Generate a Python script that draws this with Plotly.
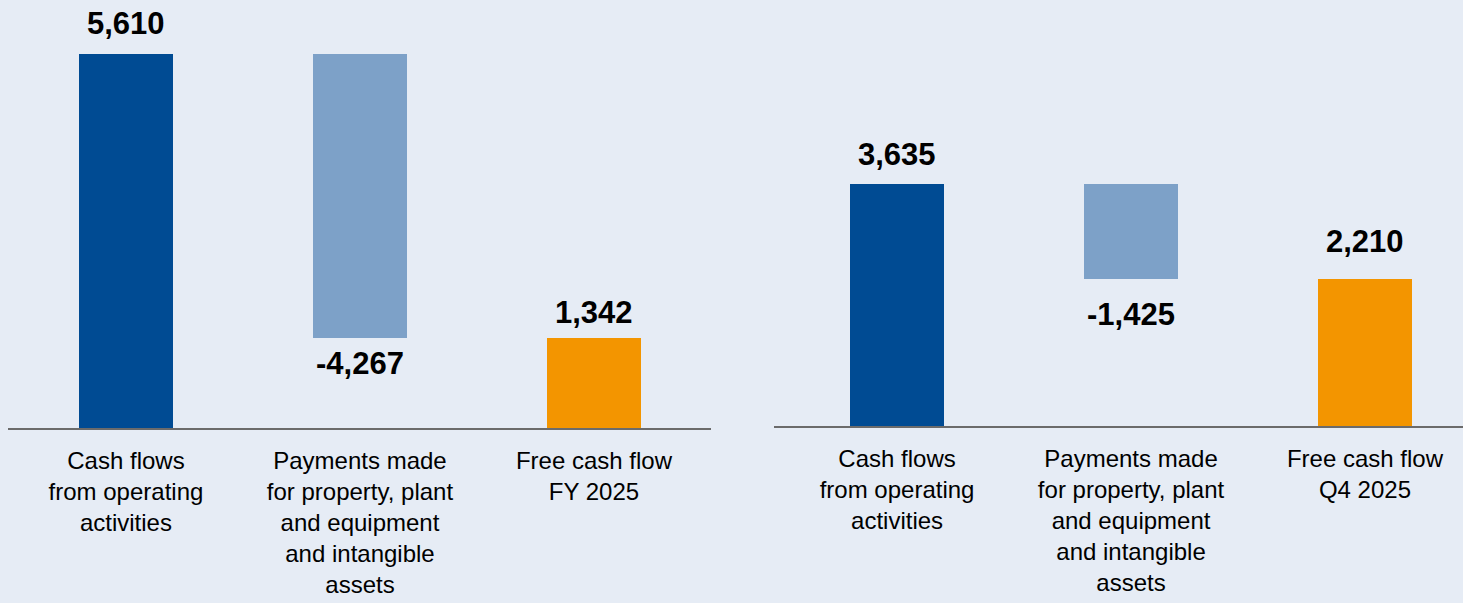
import plotly.graph_objects as go

# Werte aus dem Bild (Mio. EUR)
categories_fy = ["Cash flows<br>from operating<br>activities",
                 "Payments made<br>for property, plant<br>and equipment<br>and intangible<br>assets",
                 "Free cash flow<br>FY 2025"]
categories_q4 = ["Cash flows<br>from operating<br>activities",
                 "Payments made<br>for property, plant<br>and equipment<br>and intangible<br>assets",
                 "Free cash flow<br>Q4 2025"]
values_fy = [5610, -4267, 1342]
values_q4 = [3635, -1425, 2210]

colors = ["#004B93", "#7DA1C8", "#F39500"]
bg = "#E6ECF5"
W, H = 1463, 603
scale = 0.0667  # px pro Einheit

# Abstand Beschriftung <-> Balken (px), wie im Original leicht unterschiedlich
shift_fy = [11, -6, 6]
shift_q4 = [10, -16, 18]


def bases(vals):
    # Waterfall: mittlerer Balken hängt vom ersten ab
    return [0, vals[0], 0]


fig = go.Figure()
panels = [
    (categories_fy, values_fy, shift_fy, "x", "y"),
    (categories_q4, values_q4, shift_q4, "x2", "y2"),
]
label_font = dict(size=31, color="black", family="Liberation Sans, Arial")
for cats, vals, shifts, xa, ya in panels:
    b = bases(vals)
    fig.add_trace(go.Bar(
        x=cats, y=vals, base=b, width=0.4,
        marker=dict(color=colors, line=dict(width=0)),
        xaxis=xa, yaxis=ya, hoverinfo="skip", showlegend=False,
    ))
    for c, v, bb, s in zip(cats, vals, b, shifts):
        fig.add_annotation(x=c, y=bb + v, xref=xa, yref=ya, text=f"<b>{v:,}</b>",
                           showarrow=False, yanchor="bottom" if v >= 0 else "top",
                           yshift=s, font=label_font)

axis_common = dict(
    showline=True, linecolor="#6B6B6B", linewidth=1.5, ticks="", showgrid=False,
    tickfont=dict(size=24, color="black", family="Liberation Sans Narrow, Arial Narrow, Liberation Sans"),
    ticklabelstandoff=10, fixedrange=True,
)
fig.update_layout(
    width=W, height=H, autosize=False,
    margin=dict(l=0, r=0, t=0, b=0),
    paper_bgcolor=bg, plot_bgcolor=bg,
    bargap=0,
    xaxis=dict(domain=[8 / W, 711 / W], range=[-0.504, 2.5], anchor="y", **axis_common),
    xaxis2=dict(domain=[774 / W, 1.0], range=[-0.526, 2.419], anchor="y2", **axis_common),
    yaxis=dict(domain=[(H - 428) / H, 1], range=[0, 428 / scale], visible=False, fixedrange=True),
    yaxis2=dict(domain=[(H - 426) / H, 1], range=[0, 426 / scale], visible=False, anchor="x2", fixedrange=True),
)

fig.write_html("out.html", config={"displayModeBar": False},
               post_script="document.body.style.margin='0';")
